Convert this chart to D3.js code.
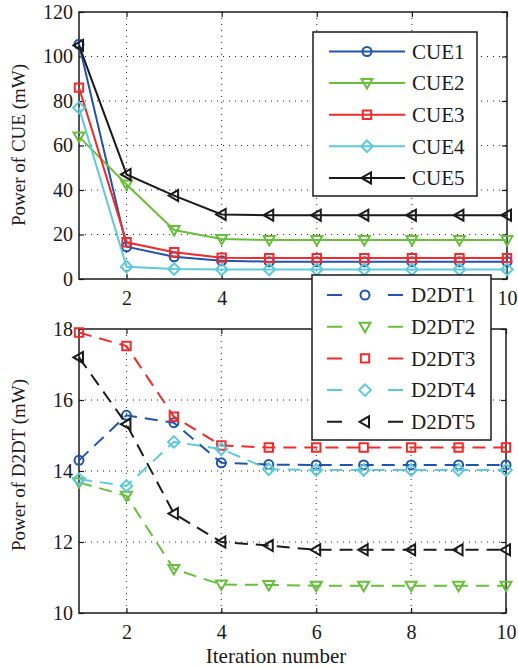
<!DOCTYPE html>
<html>
<head>
<meta charset="utf-8">
<script src="https://cdn.jsdelivr.net/npm/d3@7"></script>
<style>
  body { margin: 0; background: #fff; }
  svg { display: block; }
</style>
</head>
<body>
<svg id="canvas" width="518" height="669"></svg>
<script>
// data
let iterations = [1, 2, 3, 4, 5, 6, 7, 8, 9, 10]

let cue1 = [105.5, 14.5, 10, 8.2, 7.8, 7.8, 7.8, 7.8, 7.8, 7.8]
let cue2 = [64, 42.5, 22, 18, 17.5, 17.5, 17.5, 17.5, 17.5, 17.5]
let cue3 = [86, 16.5, 12, 9.6, 9.4, 9.4, 9.4, 9.4, 9.4, 9.4]
let cue4 = [77, 5.5, 4.5, 4.3, 4.3, 4.3, 4.3, 4.3, 4.3, 4.3]
let cue5 = [105, 47, 37.5, 29, 28.7, 28.7, 28.7, 28.7, 28.7, 28.7]

let d2dt1 = [14.3, 15.57, 15.36, 14.23, 14.18, 14.17, 14.17, 14.17, 14.17, 14.17]
let d2dt2 = [13.68, 13.3, 11.24, 10.8, 10.79, 10.77, 10.77, 10.77, 10.77, 10.77]
let d2dt3 = [17.9, 17.52, 15.53, 14.72, 14.66, 14.66, 14.66, 14.66, 14.66, 14.66]
let d2dt4 = [13.77, 13.58, 14.82, 14.62, 14.05, 14.03, 14.03, 14.03, 14.03, 14.03]
let d2dt5 = [17.2, 15.32, 12.8, 12.0, 11.9, 11.78, 11.78, 11.78, 11.78, 11.78]

let cueNames = ['CUE1', 'CUE2', 'CUE3', 'CUE4', 'CUE5']
let d2dtNames = ['D2DT1', 'D2DT2', 'D2DT3', 'D2DT4', 'D2DT5']
let colors = ['#2154ac', '#68bf3c', '#ef2b2b', '#5ec9d8', '#1a1a1a']
let markers = ['circle', 'down', 'square', 'diamond', 'left']

let xTicks = [2, 4, 6, 8, 10]
let cueTicks = [0, 20, 40, 60, 80, 100, 120]
let d2dtTicks = [10, 12, 14, 16, 18]

let serif = "'Liberation Serif'"

let svg = d3.select('#canvas')

let markerPath = (type, x, y) => {
    let p = d3.path()
    if (type === 'circle') {
        p.moveTo(x + 4.5, y)
        p.arc(x, y, 4.5, 0, Math.PI * 2)
    } else if (type === 'square') {
        p.rect(x - 4.2, y - 4.2, 8.4, 8.4)
    } else if (type === 'diamond') {
        p.moveTo(x, y - 5.8); p.lineTo(x + 5.8, y); p.lineTo(x, y + 5.8); p.lineTo(x - 5.8, y); p.closePath()
    } else if (type === 'down') {
        p.moveTo(x - 5.5, y - 4); p.lineTo(x + 5.5, y - 4); p.lineTo(x, y + 5.5); p.closePath()
    } else if (type === 'left') {
        p.moveTo(x - 5.5, y); p.lineTo(x + 4, y - 5.5); p.lineTo(x + 4, y + 5.5); p.closePath()
    }
    return p.toString()
}

let styleText = (sel, size) => {
    sel.style('font-family', serif).style('font-size', size + 'px').attr('fill', '#1a1a1a')
}

let drawPanel = (opts) => {
    let x = d3.scaleLinear().domain([1, 10]).range([opts.left, opts.right])
    let y = d3.scaleLinear().domain(opts.yDomain).range([opts.bottom, opts.top])
    let g = svg.append('g')

    // dotted grid
    g.selectAll('.vgrid').data(xTicks.filter(t => t < 10)).enter().append('line')
        .attr('x1', d => x(d)).attr('x2', d => x(d))
        .attr('y1', opts.top).attr('y2', opts.bottom)
        .attr('stroke', '#222').attr('stroke-width', 1).attr('stroke-dasharray', '1,5')
    g.selectAll('.hgrid').data(opts.yTicks.slice(1, -1)).enter().append('line')
        .attr('x1', opts.left).attr('x2', opts.right)
        .attr('y1', d => y(d)).attr('y2', d => y(d))
        .attr('stroke', '#222').attr('stroke-width', 1).attr('stroke-dasharray', '1,5')

    // axes with inward ticks; labels under the legend box are left out
    let xFormat = d => opts.hiddenX.includes(d) ? '' : d
    let axes = [
        [d3.axisBottom(x).tickValues(xTicks).tickSize(-5).tickPadding(12).tickFormat(xFormat), 0, opts.bottom],
        [d3.axisTop(x).tickValues(xTicks).tickSize(-5).tickFormat(''), 0, opts.top],
        [d3.axisLeft(y).tickValues(opts.yTicks).tickSize(-5).tickPadding(6), opts.left, 0],
        [d3.axisRight(y).tickValues(opts.yTicks).tickSize(-5).tickFormat(''), opts.right, 0]
    ]
    axes.forEach(a => {
        let ax = g.append('g').attr('transform', 'translate(' + a[1] + ',' + a[2] + ')').call(a[0])
        ax.select('.domain').remove()
        ax.selectAll('line').attr('stroke', '#1a1a1a').attr('stroke-width', 1.2)
        ax.attr('font-family', serif).attr('font-size', 20)
        ax.selectAll('text').filter(function () { return this.textContent === '' }).remove()
        styleText(ax.selectAll('text'), 20)
    })

    g.append('rect')
        .attr('x', opts.left).attr('y', opts.top)
        .attr('width', opts.right - opts.left).attr('height', opts.bottom - opts.top)
        .attr('fill', 'none').attr('stroke', '#1a1a1a').attr('stroke-width', 1.5)

    // series
    let line = d3.line().x((d, i) => x(iterations[i])).y(d => y(d))
    opts.series.forEach((s, k) => {
        g.append('path').datum(s)
            .attr('d', line)
            .attr('fill', 'none')
            .attr('stroke', colors[k])
            .attr('stroke-width', 2)
            .attr('stroke-dasharray', opts.dash)
        g.selectAll('.m' + k).data(s).enter().append('path')
            .attr('d', (d, i) => markerPath(markers[k], x(iterations[i]), y(d)))
            .attr('fill', 'none')
            .attr('stroke', colors[k])
            .attr('stroke-width', 2)
    })

    g.append('text')
        .attr('transform', 'rotate(-90)')
        .attr('x', -opts.labelY).attr('y', 25)
        .attr('text-anchor', 'middle')
        .text(opts.yLabel)
        .call(styleText, 19)
}

let drawLegend = (names, box, dashed) => {
    let g = svg.append('g')
    g.append('rect')
        .attr('x', box.x).attr('y', box.y).attr('width', box.w).attr('height', box.h)
        .attr('fill', '#fff').attr('stroke', '#1a1a1a').attr('stroke-width', 1.5)
    names.forEach((n, i) => {
        let ry = box.row0 + i * box.step
        g.append('line')
            .attr('x1', box.lx1).attr('x2', box.lx2).attr('y1', ry).attr('y2', ry)
            .attr('stroke', colors[i]).attr('stroke-width', 2)
            .attr('stroke-dasharray', dashed ? '15,46' : null)
        g.append('path')
            .attr('d', markerPath(markers[i], (box.lx1 + box.lx2) / 2, ry))
            .attr('fill', 'none').attr('stroke', colors[i]).attr('stroke-width', 2)
        g.append('text')
            .attr('x', box.tx).attr('y', ry).attr('dy', '0.35em')
            .text(n)
            .call(styleText, 21)
    })
}

drawPanel({
    left: 79, right: 507, top: 12, bottom: 279,
    yDomain: [0, 120], yTicks: cueTicks, hiddenX: [6, 8],
    series: [cue1, cue2, cue3, cue4, cue5],
    dash: null, yLabel: 'Power of CUE (mW)', labelY: 145
})

drawPanel({
    left: 79, right: 506, top: 329, bottom: 613,
    yDomain: [10, 18], yTicks: d2dtTicks, hiddenX: [],
    series: [d2dt1, d2dt2, d2dt3, d2dt4, d2dt5],
    dash: '13,8', yLabel: 'Power of D2DT (mW)', labelY: 465
})

svg.append('text')
    .attr('x', 276).attr('y', 663)
    .attr('text-anchor', 'middle')
    .text('Iteration number')
    .call(styleText, 21)

drawLegend(cueNames, {x: 313, y: 32, w: 164, h: 164, row0: 51.5, step: 31.6, lx1: 329, lx2: 405, tx: 412}, false)
drawLegend(d2dtNames, {x: 312, y: 275, w: 179, h: 165, row0: 295, step: 31.7, lx1: 327, lx2: 403, tx: 411}, true)
</script>
</body>
</html>
